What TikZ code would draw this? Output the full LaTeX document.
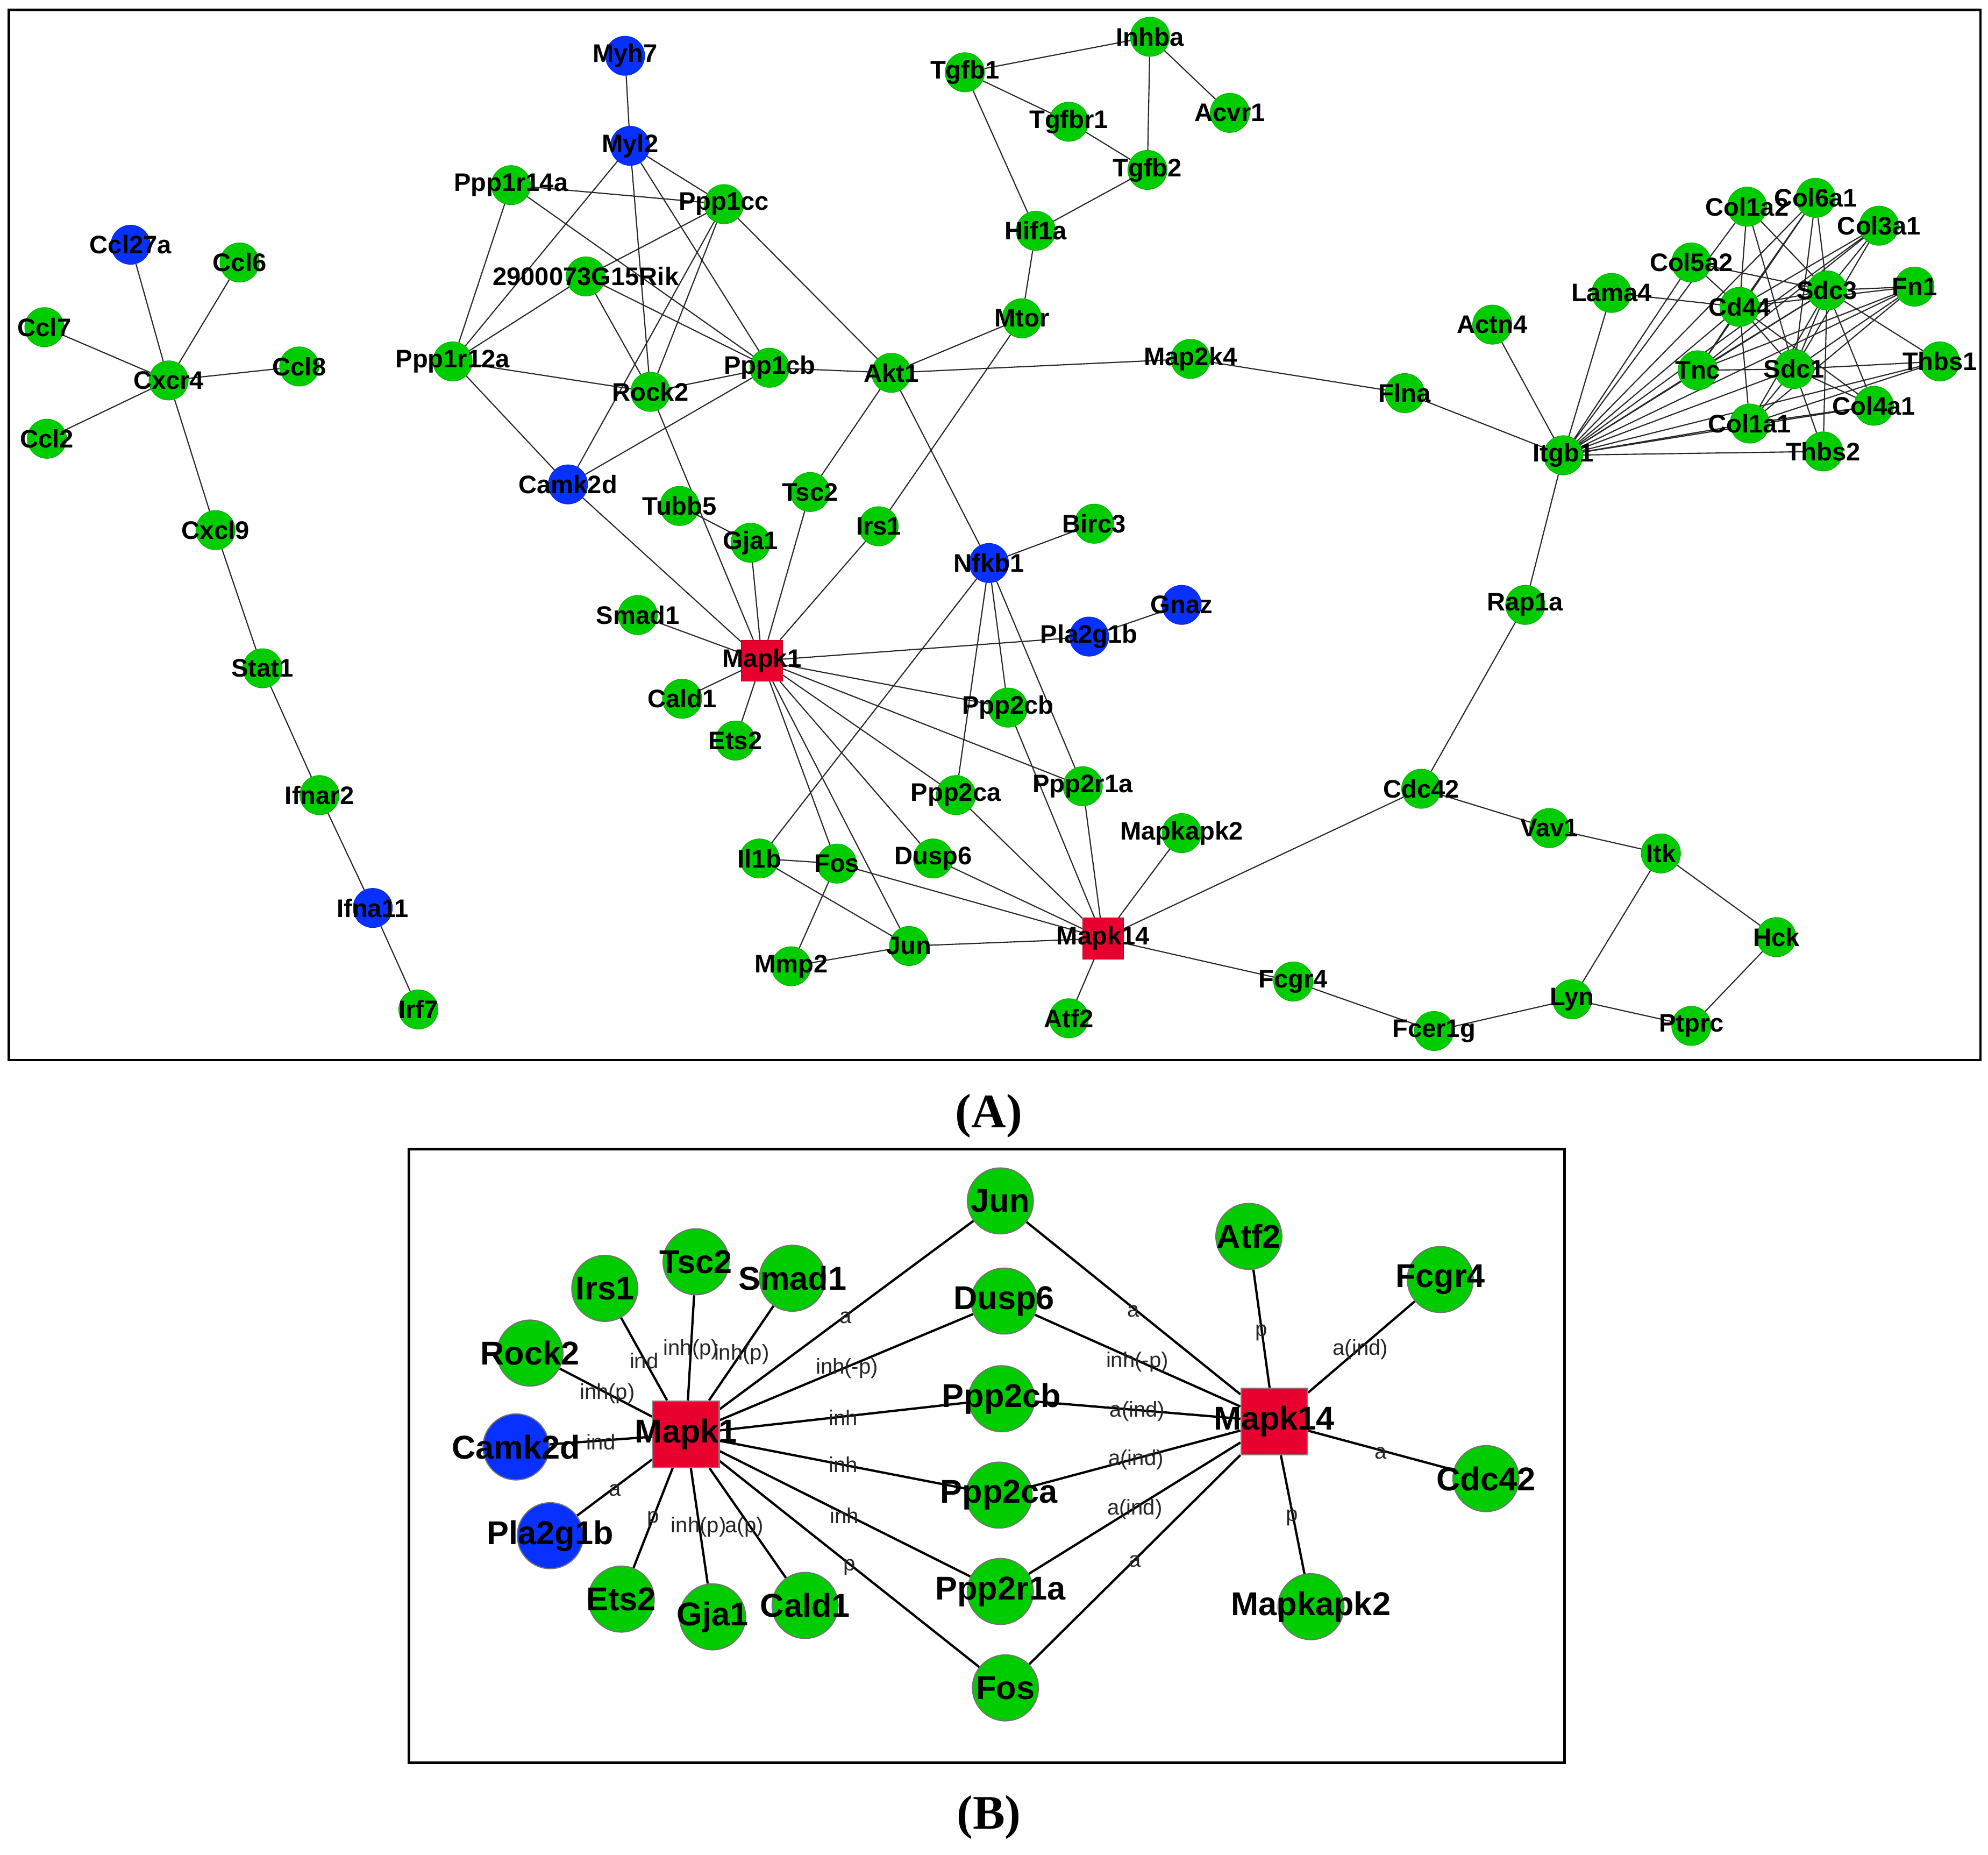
\documentclass[tikz,border=0pt]{standalone}
\usepackage{fontspec}
\setmainfont{Liberation Sans}
\newfontfamily\capfont{Liberation Serif}
\usetikzlibrary{backgrounds}
\definecolor{gN}{RGB}{0,204,0}
\definecolor{bN}{RGB}{8,48,255}
\definecolor{rN}{RGB}{232,0,46}
\begin{document}
\begin{tikzpicture}[x=1pt,y=-1pt,
  nA/.style={circle,minimum size=31pt,inner sep=0pt,fill=#1,draw=#1!85!black,line width=0.4pt},
  sA/.style={rectangle,minimum size=32.5pt,inner sep=0pt,fill=rN,draw=rN!80!black,line width=0.4pt},
  nB/.style={circle,minimum size=52pt,inner sep=0pt,fill=#1,draw=black!55,line width=0.9pt},
  sB/.style={rectangle,minimum size=52.5pt,inner sep=0pt,fill=rN,draw=black!50,line width=0.9pt},
  lA/.style={font=\bfseries\fontsize{20}{20}\selectfont,inner sep=0pt,text=black},
  lB/.style={font=\bfseries\fontsize{26}{26}\selectfont,inner sep=0pt,text=black},
  eA/.style={draw=black!85,line width=0.9pt},
  eB/.style={draw=black,line width=1.8pt},
  el/.style={font=\fontsize{17}{17}\selectfont,inner sep=0pt,text=black!85},
  frame/.style={draw=black,line width=2pt}]
\useasboundingbox (0,0) rectangle (1568,1462.8);
% ---------------- panel A -----------------
\draw[frame] (7,8) rectangle (1562,836);
\foreach \n/\x/\y in {Ccl6/189/207, Ccl7/35/258, Cxcr4/133/300, Ccl8/236/289, Ccl2/37/346, Cxcl9/170/418, Stat1/207/527, Ifnar2/252/627, Irf7/330/796,
  Ppp1r14a/403/146, Ppp1cc/571/161, 2900073G15Rik/462/218, Ppp1r12a/357/285, Rock2/513/309, Ppp1cb/607/290, Akt1/703/294, Tubb5/536/399, Tsc2/639/388, Gja1/592/428, Irs1/693/415, Birc3/863/413, Smad1/503/485, Cald1/538/551, Ets2/580/584, Ppp2cb/795/558, Ppp2ca/754/627, Ppp2r1a/854/620, Mapkapk2/932/657, Il1b/599/677, Fos/660/681, Dusp6/736/677, Mmp2/624/762, Jun/717/746, Atf2/843/803,
  Tgfb1/761/57, Inhba/907/29, Tgfbr1/843/96, Acvr1/970/89, Tgfb2/905/134, Hif1a/817/182, Mtor/806/251, Map2k4/939/283, Flna/1108/310, Actn4/1177/256, Itgb1/1233/359, Rap1a/1203/477, Cdc42/1121/622, Vav1/1222/653, Itk/1310/673, Hck/1401/739, Ptprc/1334/809, Lyn/1240/788, Fcer1g/1131/813, Fcgr4/1020/774,
  Col1a2/1378/163, Col6a1/1432/156, Col3a1/1482/178, Col5a2/1334/207, Lama4/1271/231, Cd44/1372/242, Sdc3/1441/229, Fn1/1510/226, Tnc/1339/292, Sdc1/1415/291, Thbs1/1530/285, Col4a1/1478/320, Col1a1/1380/334, Thbs2/1438/356}
  \node[nA=gN] (\n) at (\x,\y) {};
\foreach \n/\x/\y in {Myh7/493/44, Myl2/497/115, Ccl27a/103/193, Camk2d/448/382, Nfkb1/780/444, Gnaz/932/477, Pla2g1b/859/502, Ifna11/294/716}
  \node[nA=bN] (\n) at (\x,\y) {};
\node[sA] (Mapk1) at (601,521) {};
\node[sA] (Mapk14) at (870,740) {};
\begin{pgfonlayer}{background}
\foreach \a/\b in {Cxcr4/Ccl27a, Cxcr4/Ccl6, Cxcr4/Ccl7, Cxcr4/Ccl8, Cxcr4/Ccl2, Cxcr4/Cxcl9, Cxcl9/Stat1, Stat1/Ifnar2, Ifnar2/Ifna11, Ifna11/Irf7,
  Myh7/Myl2, Myl2/Ppp1cc, Myl2/Ppp1r12a, Myl2/Rock2, Myl2/Ppp1cb, Ppp1r14a/Ppp1cc, Ppp1r14a/Ppp1r12a, Ppp1r14a/Ppp1cb, Ppp1cc/2900073G15Rik, Ppp1cc/Rock2, Ppp1cc/Camk2d, Ppp1cc/Akt1, 2900073G15Rik/Ppp1r12a, 2900073G15Rik/Rock2, 2900073G15Rik/Ppp1cb, Ppp1r12a/Rock2, Ppp1r12a/Camk2d, Rock2/Ppp1cb, Ppp1cb/Akt1, Ppp1cb/Camk2d, Rock2/Mapk1, Tubb5/Gja1,
  Akt1/Mtor, Akt1/Map2k4, Akt1/Tsc2, Akt1/Nfkb1,
  Mapk1/Tsc2, Mapk1/Gja1, Mapk1/Irs1, Mapk1/Camk2d, Mapk1/Smad1, Mapk1/Cald1, Mapk1/Ets2, Mapk1/Pla2g1b, Mapk1/Ppp2cb, Mapk1/Ppp2r1a, Mapk1/Ppp2ca, Mapk1/Dusp6, Mapk1/Fos, Mapk1/Jun,
  Irs1/Mtor, Nfkb1/Birc3, Nfkb1/Il1b, Nfkb1/Ppp2ca, Nfkb1/Ppp2cb, Nfkb1/Ppp2r1a, Pla2g1b/Gnaz,
  Mapk14/Ppp2cb, Mapk14/Ppp2ca, Mapk14/Ppp2r1a, Mapk14/Dusp6, Mapk14/Fos, Mapk14/Jun, Mapk14/Mapkapk2, Mapk14/Atf2, Mapk14/Cdc42, Mapk14/Fcgr4,
  Il1b/Fos, Il1b/Jun, Fos/Mmp2, Mmp2/Jun,
  Tgfb1/Inhba, Tgfb1/Tgfbr1, Tgfb1/Hif1a, Tgfbr1/Tgfb2, Inhba/Tgfb2, Inhba/Acvr1, Tgfb2/Hif1a, Hif1a/Mtor,
  Map2k4/Flna, Flna/Itgb1, Actn4/Itgb1, Itgb1/Rap1a, Rap1a/Cdc42, Cdc42/Vav1, Vav1/Itk, Itk/Hck, Itk/Lyn, Hck/Ptprc, Lyn/Ptprc, Lyn/Fcer1g, Fcer1g/Fcgr4,
  Itgb1/Lama4, Itgb1/Col5a2, Itgb1/Col1a2, Itgb1/Col6a1, Itgb1/Cd44, Itgb1/Col3a1, Itgb1/Tnc, Itgb1/Sdc3, Itgb1/Fn1, Itgb1/Sdc1, Itgb1/Thbs1, Itgb1/Col4a1, Itgb1/Col1a1, Itgb1/Thbs2,
  Cd44/Lama4, Cd44/Col5a2, Cd44/Col1a2, Cd44/Col6a1, Cd44/Col3a1, Cd44/Sdc3, Cd44/Fn1, Cd44/Sdc1, Cd44/Tnc, Cd44/Col1a1, Cd44/Col4a1,
  Sdc3/Col5a2, Sdc3/Col1a2, Sdc3/Col6a1, Sdc3/Col3a1, Sdc3/Fn1, Sdc3/Thbs1, Sdc3/Col4a1, Sdc3/Thbs2, Sdc3/Sdc1, Sdc3/Tnc, Sdc3/Col1a1,
  Sdc1/Col1a2, Sdc1/Col6a1, Sdc1/Col3a1, Sdc1/Fn1, Sdc1/Thbs1, Sdc1/Col4a1, Sdc1/Thbs2, Sdc1/Tnc, Sdc1/Col1a1,
  Col1a1/Col4a1, Col1a1/Thbs1, Col1a1/Fn1, Tnc/Fn1, Tnc/Col3a1, Tnc/Col6a1}
  \draw[eA] (\a) -- (\b);
\end{pgfonlayer}
\foreach \n in {Ccl6, Ccl7, Cxcr4, Ccl8, Ccl2, Cxcl9, Stat1, Ifnar2, Irf7, Ppp1r14a, Ppp1cc, 2900073G15Rik, Ppp1r12a, Rock2, Ppp1cb, Akt1, Tubb5, Tsc2, Gja1, Irs1, Birc3, Smad1, Cald1, Ets2, Ppp2cb, Ppp2ca, Ppp2r1a, Mapkapk2, Il1b, Fos, Dusp6, Mmp2, Jun, Atf2, Tgfb1, Inhba, Tgfbr1, Acvr1, Tgfb2, Hif1a, Mtor, Map2k4, Flna, Actn4, Itgb1, Rap1a, Cdc42, Vav1, Itk, Hck, Ptprc, Lyn, Fcer1g, Fcgr4, Col1a2, Col6a1, Col3a1, Col5a2, Lama4, Cd44, Sdc3, Fn1, Tnc, Sdc1, Thbs1, Col4a1, Col1a1, Thbs2, Myh7, Myl2, Ccl27a, Camk2d, Nfkb1, Gnaz, Pla2g1b, Ifna11, Mapk1, Mapk14}
  \node[lA] (\n-t) at (\n) {\n};
\node[font=\capfont\bfseries\fontsize{38}{38}\selectfont,inner sep=0pt] (capA) at (780,880) {(A)};
% ---------------- panel B -----------------
\draw[frame] (322.5,906) rectangle (1234,1390);
\foreach \n/\t/\x/\y in {bJun/Jun/789/947, bDusp6/Dusp6/792/1026, bPpp2cb/Ppp2cb/790/1103, bPpp2ca/Ppp2ca/788/1179, bPpp2r1a/Ppp2r1a/789/1255, bFos/Fos/793/1331, bIrs1/Irs1/477/1016, bTsc2/Tsc2/549/995, bSmad1/Smad1/625/1008, bRock2/Rock2/418/1067, bEts2/Ets2/490/1261, bGja1/Gja1/562/1275, bCald1/Cald1/635/1266, bAtf2/Atf2/985/975, bFcgr4/Fcgr4/1136/1009, bCdc42/Cdc42/1172/1166, bMapkapk2/Mapkapk2/1034/1267}
  \node[nB=gN] (\n) at (\x,\y) {};
\node[nB=bN] (bCamk2d) at (407,1141) {};
\node[nB=bN] (bPla2g1b) at (434,1211) {};
\node[sB] (bMapk1) at (541,1131) {};
\node[sB] (bMapk14) at (1005,1121) {};
\begin{pgfonlayer}{background}
\foreach \a/\b in {bMapk1/bIrs1, bMapk1/bTsc2, bMapk1/bSmad1, bMapk1/bJun, bMapk1/bDusp6, bMapk1/bPpp2cb, bMapk1/bPpp2ca, bMapk1/bPpp2r1a, bMapk1/bFos, bMapk1/bRock2, bMapk1/bCamk2d, bMapk1/bPla2g1b, bMapk1/bEts2, bMapk1/bGja1, bMapk1/bCald1,
  bMapk14/bJun, bMapk14/bDusp6, bMapk14/bPpp2cb, bMapk14/bPpp2ca, bMapk14/bPpp2r1a, bMapk14/bFos, bMapk14/bAtf2, bMapk14/bFcgr4, bMapk14/bCdc42, bMapk14/bMapkapk2}
  \draw[eB] (\a) -- (\b);
\end{pgfonlayer}
\foreach \n/\t/\x/\y in {l1/ind/508/1073, l2/{inh(p)}/545/1064, l3/{inh(p)}/585/1068, l4/a/667/1039, l5/{inh(-p)}/668/1079, l6/inh/665/1118, l7/inh/665/1155, l8/inh/666/1195, l9/p/670/1236, l10/{inh(p)}/479/1099, l11/ind/474/1137, l12/a/485/1175, l13/p/515/1198, l14/{inh(p)}/551/1204, l15/{a(p)}/587/1204,
  m1/a/894/1034, m2/{inh(-p)}/897/1074, m3/{a(ind)}/897/1113, m4/{a(ind)}/896/1151, m5/{a(ind)}/895/1190, m6/a/895/1231, m7/p/995/1051, m8/{a(ind)}/1073/1064, m9/a/1089/1146, m10/p/1019/1197}
  \node[el] (\n) at (\x,\y) {\t};
\foreach \n/\t in {bJun/Jun, bDusp6/Dusp6, bPpp2cb/Ppp2cb, bPpp2ca/Ppp2ca, bPpp2r1a/Ppp2r1a, bFos/Fos, bIrs1/Irs1, bTsc2/Tsc2, bSmad1/Smad1, bRock2/Rock2, bEts2/Ets2, bGja1/Gja1, bCald1/Cald1, bAtf2/Atf2, bFcgr4/Fcgr4, bCdc42/Cdc42, bMapkapk2/Mapkapk2, bCamk2d/Camk2d, bPla2g1b/Pla2g1b, bMapk1/Mapk1, bMapk14/Mapk14}
  \node[lB] (\n-t) at (\n) {\t};
\node[font=\capfont\bfseries\fontsize{38}{38}\selectfont,inner sep=0pt] (capB) at (780,1433) {(B)};
\end{tikzpicture}
\end{document}
